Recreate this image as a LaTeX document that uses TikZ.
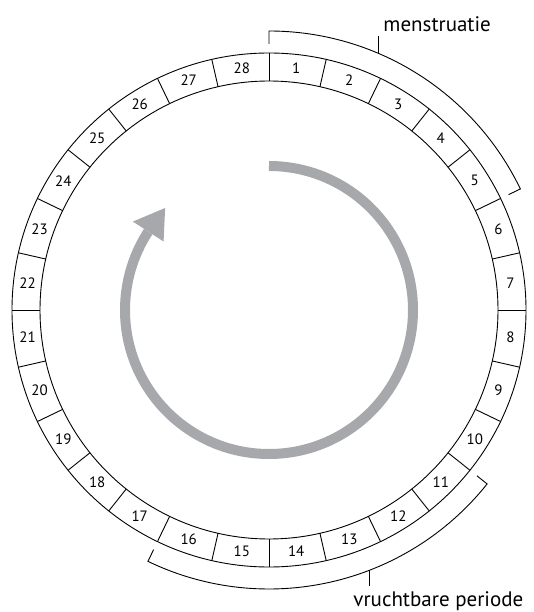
\documentclass[tikz,border=0pt]{standalone}
\usepackage{fontspec}
\setmainfont{PT Sans}
\definecolor{arrowgray}{RGB}{167,168,172}
\begin{document}
\begin{tikzpicture}[x=1pt,y=1pt,line width=0.9pt,
  daylabel/.style={font=\fontsize{15}{17}\selectfont, inner sep=0pt},
  caption/.style={font=\fontsize{21}{25}\selectfont, inner sep=0pt, anchor=base west}]
\useasboundingbox (-269,-302) rectangle (265,310);
\def\Ro{257}
\def\Ri{229}
\draw (0,0) circle[radius=\Ro];
\draw (0,0) circle[radius=\Ri];
\foreach \k in {1,...,28} {
  \pgfmathsetmacro\a{90-(\k-1)*360/28}
  \pgfmathsetmacro\m{\a-180/28}
  \draw (\a:\Ri) -- (\a:\Ro);
  \node[daylabel] (d\k) at (\m:243) {\k};
}
% menstruatie bracket
\draw (90:266) -- (90:279) arc[start angle=90, end angle=25.714, radius=279] -- (25.714:266);
\coordinate (mfoot) at (67:279);
\node[caption] (mens) at (114,278) {menstruatie};
\draw (mfoot) -- ++(0,17) coordinate (mtop);
% vruchtbare periode bracket
\draw (-38.571:266) -- (-38.571:279) arc[start angle=-38.571, end angle=-115.714, radius=279] -- (-115.714:266);
\coordinate (vfoot) at (-68.8:279);
\node[caption] (vrucht) at (84,-296) {vruchtbare periode};
\draw (vfoot) -- ++(0,-16) coordinate (vbot);
% grey cycle arrow
\draw[line width=10pt, arrowgray] (90:144) arc[start angle=90, end angle=-213, radius=144];
\fill[arrowgray] (135.5:145.6) -- (147:162.3) -- (147:125.7) -- cycle;
\end{tikzpicture}
\end{document}
